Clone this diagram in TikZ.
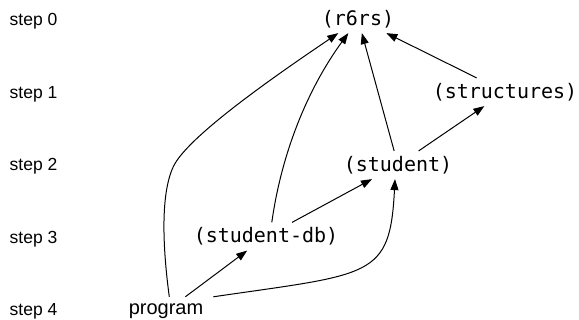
\documentclass[tikz,border=0pt]{standalone}
\usepackage{fontspec}
\setmainfont{Liberation Sans}
\newfontfamily\monof{DejaVu Sans Mono}
\usetikzlibrary{arrows.meta}
\begin{document}
\begin{tikzpicture}[x=1pt,y=-1pt,
  mono/.style={font=\monof\fontsize{20}{24}\selectfont, text height=15.2pt, text depth=2.6pt, inner xsep=3pt, inner ysep=5pt},
  steplabel/.style={font=\fontsize{17.5}{21}\selectfont, anchor=base west, inner sep=0pt},
  prog/.style={font=\fontsize{20}{24}\selectfont, anchor=base, text height=12pt, text depth=4.5pt, inner xsep=3pt, inner ysep=6pt},
  edge/.style={draw, line width=1pt, -{Triangle[length=11pt,width=8pt]}}]
\useasboundingbox (0,0) rectangle (579,320);
\node[steplabel] (s0) at (9.5,26) {step 0};
\node[steplabel] (s1) at (9.5,98.5) {step 1};
\node[steplabel] (s2) at (9.5,171) {step 2};
\node[steplabel] (s3) at (9.5,243.5) {step 3};
\node[steplabel] (s4) at (9.5,316) {step 4};
\node[mono] (r6rs) at (358,19) {(r6rs)};
\node[mono] (structures) at (505,92) {(structures)};
\node[mono] (student) at (398,165) {(student)};
\node[mono] (studentdb) at (266,236.5) {(student-db)};
\node[prog] (program) at (166,315) {program};
\draw[edge] (structures) -- (r6rs);
\draw[edge] (student) -- (r6rs);
\draw[edge] (student) -- (structures);
\draw[edge] (studentdb) -- (student);
\draw[edge] (program) -- (studentdb);
\draw[edge] ([xshift=3.3pt]program.north) .. controls (163,250) and (160,195) .. (173.3,166.7) .. controls (188,134.9) and (288.5,66.9) .. ([xshift=-19.7pt]r6rs.south);
\draw[edge] ([xshift=5.8pt]studentdb.north) .. controls (281.4,153.9) and (307,89.9) .. ([xshift=-9.7pt]r6rs.south);
\draw[edge] ([xshift=47.3pt]program.north) .. controls (371.4,273.7) and (390,278.3) .. ([xshift=-3pt]student.south);
\end{tikzpicture}
\end{document}
